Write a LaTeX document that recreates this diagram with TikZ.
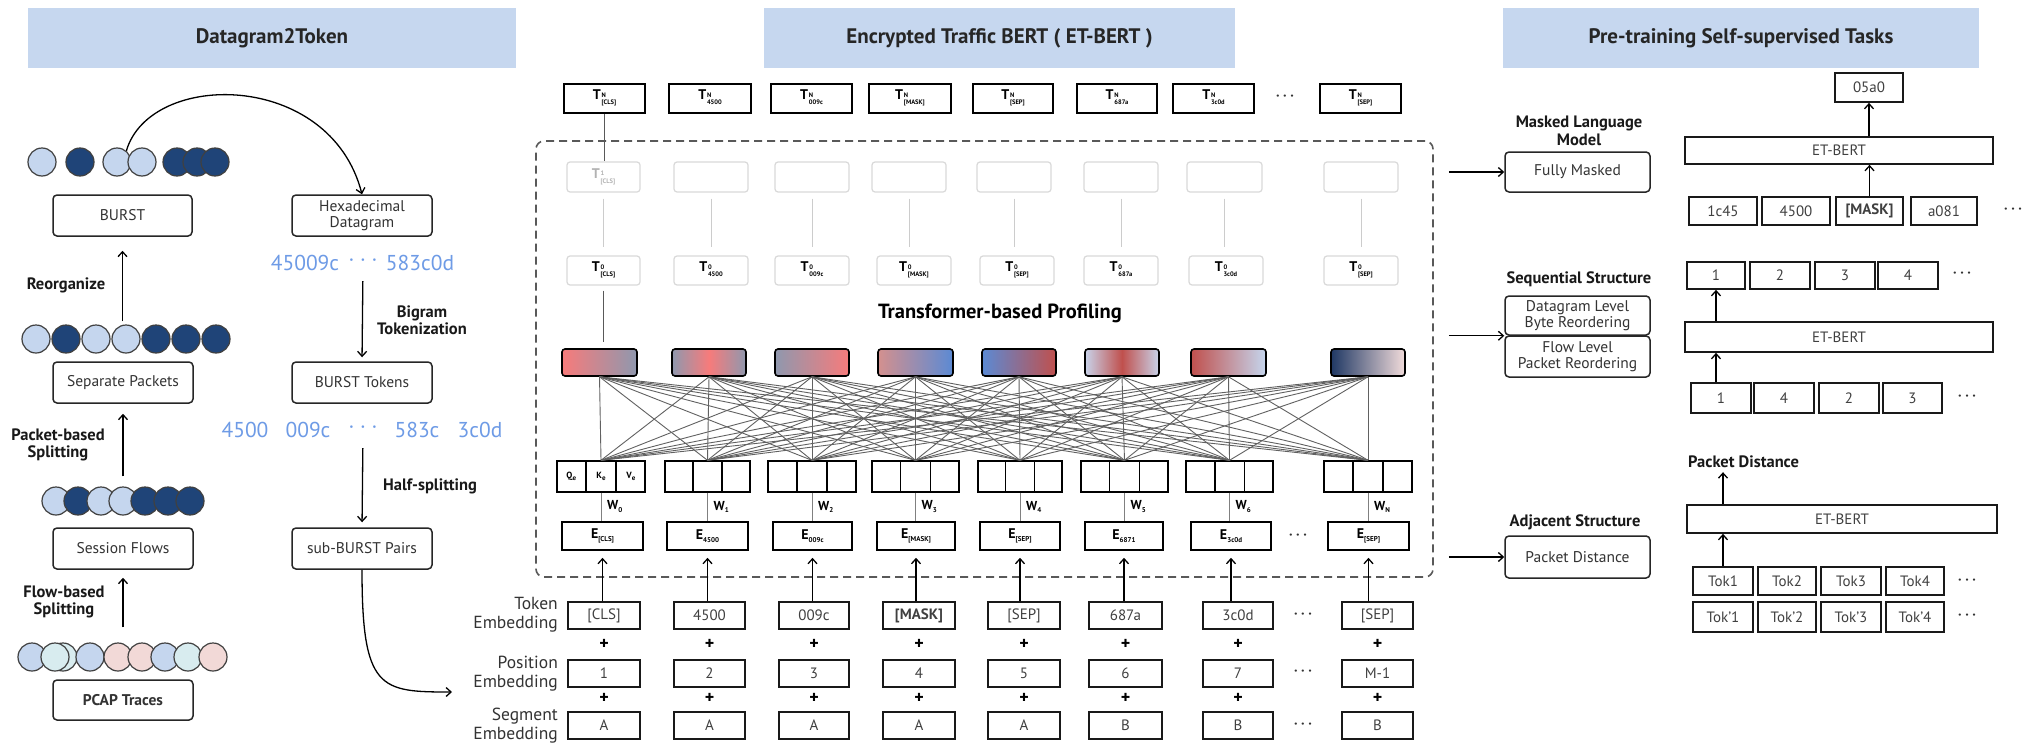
\documentclass[tikz,border=0pt]{standalone}
\usepackage{fontspec}
\setmainfont{PT Sans}
\usetikzlibrary{arrows.meta,calc}
\definecolor{hdrblue}{HTML}{C6D7EF}
\definecolor{tokblue}{HTML}{6E9BE6}
\definecolor{cl}{HTML}{C5D6EE}
\definecolor{cd}{HTML}{1F4478}
\definecolor{cc}{HTML}{D8ECEF}
\definecolor{cp}{HTML}{F2D9D7}
\definecolor{gred}{HTML}{F77B7B}
\definecolor{ggray}{HTML}{8F98AE}
\definecolor{gpink}{HTML}{D4908E}
\definecolor{gblue}{HTML}{5B8AD4}
\definecolor{gdred}{HTML}{C0504D}
\definecolor{glblue}{HTML}{C8D3EA}
\definecolor{gnavy}{HTML}{1F3864}
\definecolor{glpink}{HTML}{F2DCDB}
\newcommand{\bx}[7][]{\node[#1, minimum width={(#5)-(#3)}, minimum height={(#6)-(#4)}] (#2) at ({((#3)+(#5))/2},{((#4)+(#6))/2}) {#7};}
\newcommand{\TT}[3]{\textbf{#1}\hspace{0.8pt}\raisebox{-0.2ex}{\fontsize{6.5}{7.5}\selectfont\bfseries\begin{tabular}[c]{@{}l@{}}#2\\\relax #3\end{tabular}}}
\newcommand{\EE}[2]{\textbf{#1}\raisebox{-0.45ex}{\fontsize{7}{7}\selectfont\bfseries #2}}
\begin{document}
\begin{tikzpicture}[x=1pt,y=-1pt,
  hdr/.style={fill=hdrblue, inner sep=0pt, font=\fontsize{21}{22}\selectfont\bfseries, text=black!85},
  box/.style={draw=black!85, line width=1.5pt, rounded corners=4pt, inner sep=0pt, font=\fontsize{15.5}{16.5}\selectfont, text=black!80, align=center},
  sqbox/.style={draw=black!90, line width=1.7pt, inner sep=0pt, font=\fontsize{15}{16}\selectfont, text=black!75, align=center},
  tnbox/.style={draw=black, line width=2pt, inner sep=0pt, font=\fontsize{14}{15}\selectfont, text=black},
  fadebox/.style={draw=black!15, line width=1.2pt, rounded corners=3pt, inner sep=0pt, font=\fontsize{14}{15}\selectfont},
  gbox/.style={draw=black, line width=1.6pt, rounded corners=3pt, inner sep=0pt},
  qbox/.style={draw=black, line width=1.4pt, inner sep=0pt},
  ebox/.style={draw=black, line width=1.6pt, inner sep=0pt, font=\fontsize{14}{15}\selectfont},
  blab/.style={font=\fontsize{16.5}{17.5}\selectfont\bfseries, align=center, text=black!90, inner sep=0pt},
  bluetxt/.style={font=\fontsize{21.5}{23}\selectfont, text=tokblue, inner sep=0pt},
  circ/.style={circle, draw=black!75, line width=1.2pt, minimum size=28pt, inner sep=0pt},
  attn/.style={draw=black!62, line width=0.9pt},
  wline/.style={draw=black!50, line width=1pt},
  dkline/.style={draw=black!65, line width=1.6pt},
  arr/.style={-{Straight Barb[length=5pt,width=9pt]}, line width=1.3pt},
  dots/.style={font=\fontsize{14}{14}\selectfont\bfseries, text=black!80, inner sep=0pt},
  plus/.style={font=\fontsize{18}{18}\selectfont\bfseries, inner sep=0pt},
  wlab/.style={font=\fontsize{13}{13}\selectfont, inner sep=0pt, anchor=west},
  emlab/.style={font=\fontsize{17.5}{19}\selectfont, align=right, anchor=east, inner sep=0pt, text=black!80}
]
\fill[white] (0,0) rectangle (2033,744);
\useasboundingbox (0,0) rectangle (2033,744);

% headers
\bx[hdr]{h1}{28}{8}{516}{68}{Datagram2Token}
\bx[hdr]{h2}{764}{8}{1235}{68}{Encrypted Traffic BERT ( ET-BERT )}
\bx[hdr]{h3}{1503}{8}{1979}{68}{Pre-training Self-supervised Tasks}

% ---------------- left panel ----------------
\foreach \i/\x/\c in {1/42/cl,2/80/cd,3/117/cl,4/142/cl,5/177/cd,6/197/cd,7/215/cd}
  \node[circ, fill=\c] (ra\i) at (\x,162) {};
\foreach \i/\x/\c in {1/36/cl,2/66/cd,3/96/cl,4/126/cl,5/156/cd,6/186/cd,7/216/cd}
  \node[circ, fill=\c] (rb\i) at (\x,339) {};
\foreach \i/\x/\c in {1/56/cl,2/78/cd,3/101/cl,4/123/cl,5/145/cd,6/168/cd,7/190/cd}
  \node[circ, fill=\c] (rc\i) at (\x,501) {};
\foreach \i/\x/\c in {1/32/cl,3/63/cc,2/55/cc,4/90/cl,5/118/cp,6/142/cp,7/165/cl,8/188/cc,9/213/cp}
  \node[circ, fill=\c] (rd\i) at (\x,657) {};

\bx[box]{burst}{53}{195}{192}{236}{BURST}
\bx[box]{sep}{53}{362}{193}{403}{Separate Packets}
\bx[box]{sess}{53}{528}{193}{569}{Session Flows}
\bx[box]{pcap}{53}{680}{193}{720}{\textbf{PCAP Traces}}
\bx[box]{hexd}{292}{195}{432}{236}{Hexadecimal\\Datagram}
\bx[box]{btok}{292}{362}{432}{403}{BURST Tokens}
\bx[box]{subb}{292}{528}{432}{569}{sub-BURST Pairs}

\draw[arr, shorten <=3pt, shorten >=14pt] (rb4.north -| burst.south) -- (burst.south);
\draw[arr, shorten <=10pt, shorten >=10pt] (rc4.north -| sep.south) -- (sep.south);
\draw[arr, shorten <=15pt, shorten >=8pt] (rd5.north -| sess.south) -- (sess.south);

\node[blab] (lreorg) at (66,285) {Reorganize};
\node[blab] (lpkt) at (58,445) {Packet-based\\Splitting};
\node[blab] (lflow) at (64,602) {Flow-based\\Splitting};

\node[bluetxt] (hexa) at (305,263) {45009c};
\node[bluetxt] (hexdots) at (363,263) {· · ·};
\node[bluetxt] (hexb) at (420,263) {583c0d};
\node[bluetxt] (b1) at (245,430) {4500};
\node[bluetxt] (b2) at (308,430) {009c};
\node[bluetxt] (b3) at (363,430) {· · ·};
\node[bluetxt] (b4) at (417,430) {583c};
\node[bluetxt] (b5) at (480,430) {3c0d};

\draw[arr, shorten <=14pt, shorten >=4pt] (hexdots.south) -- (btok.north);
\draw[arr, shorten <=14pt, shorten >=5pt] (b3.south) -- (subb.north);
\node[blab] (lbig) at (422,320) {Bigram\\Tokenization};
\node[blab] (lhalf) at (430,486) {Half-splitting};

\draw[arr] (ra3.50) .. controls (150,70) and (330,70) .. (hexd.north);
\coordinate (cend) at (452,692);
\draw[arr] (subb.south) .. controls (362,690) and (380,692) .. (cend);

% ---------------- middle panel ----------------
\bx[draw=black!65, line width=1.6pt, dash pattern=on 8pt off 5pt, rounded corners=8pt]{etb}{536}{141}{1433}{577}{}

\foreach \i/\a/\b/\s in {1/564/645/{[CLS]},2/669/751/4500,3/771/852/009c,4/869/951/{[MASK]},5/973/1053/{[SEP]},6/1077/1157/687a,7/1173/1254/3c0d,8/1320/1401/{[SEP]}}
  {\bx[tnbox]{tn\i}{\a}{84}{\b}{113}{\TT{T}{N}{\s}}}
\node[dots] (dtn) at (1285,98) {· · ·};

\foreach \i/\a/\b in {1/567/640,2/674/748,3/775/849,4/872/946,5/977/1051,6/1084/1158,7/1187/1262,8/1324/1398}
  {\bx[fadebox]{ta\i}{\a}{162}{\b}{192}{}}
\node[text=black!30, font=\fontsize{14}{15}\selectfont] (ta1t) at (ta1) {\TT{T}{1}{[CLS]}};

\foreach \i/\a/\b/\s in {1/567/640/{[CLS]},2/674/748/4500,3/775/849/009c,4/877/951/{[MASK]},5/980/1054/{[SEP]},6/1084/1158/687a,7/1189/1263/3c0d,8/1324/1398/{[SEP]}}
  {\bx[fadebox]{tz\i}{\a}{256}{\b}{285}{\TT{T}{0}{\s}}}

\foreach \i in {1,...,8}
  \draw[draw=black!20, line width=1pt, shorten <=6pt, shorten >=8pt] (ta\i.south) -- (ta\i.south |- tz\i.north);

\node[font=\fontsize{20.5}{21}\selectfont\bfseries, inner sep=0pt] (tbp) at (1000,313) {Transformer-based Profiling};

\bx[gbox, left color=gred, right color=ggray]{g1}{562}{349}{637}{376}{}
\bx[gbox, left color=ggray, right color=ggray, middle color=gred]{g2}{672}{349}{746}{376}{}
\bx[gbox, left color=ggray, right color=gred]{g3}{775}{349}{849}{376}{}
\bx[gbox, left color=gpink, right color=gblue]{g4}{878}{349}{953}{376}{}
\bx[gbox, left color=gblue, right color=gdred]{g5}{982}{349}{1056}{376}{}
\bx[gbox, left color=glblue, right color=glblue, middle color=gdred]{g6}{1085}{349}{1159}{376}{}
\bx[gbox, left color=gdred, right color=cl]{g7}{1191}{349}{1266}{376}{}
\bx[gbox, left color=gnavy, right color=glpink]{g8}{1331}{349}{1405}{376}{}

\draw[dkline] (tn1.south) -- (tn1.south |- ta1.north);
\draw[dkline, shorten <=5pt, shorten >=6pt] (tz1.south) -- (tz1.south |- g1.north);

\foreach \i/\a/\b in {1/557/645,2/665/750,3/768/856,4/872/959,5/978/1062,6/1081/1168,7/1186/1273,8/1324/1412}
  {\bx[qbox]{q\i}{\a}{461}{\b}{492}{}
   \draw[line width=1.4pt] ($(q\i.north west)!1/3!(q\i.north east)$) -- ($(q\i.south west)!1/3!(q\i.south east)$);
   \draw[line width=1.4pt] ($(q\i.north west)!2/3!(q\i.north east)$) -- ($(q\i.south west)!2/3!(q\i.south east)$);}
\draw[line width=2.4pt] ($(q1.north west)!1/3!(q1.north east)$) -- ($(q1.south west)!1/3!(q1.south east)$);
\draw[line width=2.4pt] ($(q7.north west)!1/3!(q7.north east)$) -- ($(q7.south west)!1/3!(q7.south east)$);
\node[font=\fontsize{9}{9}\selectfont] (qe) at ($(q1.west)!1/6!(q1.east)$) {\EE{Q}{e}};
\node[font=\fontsize{9}{9}\selectfont] (ke) at ($(q1.west)!1/2!(q1.east)$) {\EE{K}{e}};
\node[font=\fontsize{9}{9}\selectfont] (ve) at ($(q1.west)!5/6!(q1.east)$) {\EE{V}{e}};

\foreach \i in {1,...,8}
  \foreach \j in {1,...,8}
    \draw[attn] (g\i.south) -- (q\j.north);

\foreach \i/\a/\b/\s/\w in {1/562/643/{[CLS]}/0,2/667/748/4500/1,3/773/852/009c/2,4/877/955/{[MASK]}/3,5/980/1060/{[SEP]}/4,6/1085/1163/6871/5,7/1191/1271/3c0d/6,8/1328/1409/{[SEP]}/N}
  {\bx[ebox]{e\i}{\a}{522}{\b}{550}{\EE{E}{\s}}
   \draw[wline] (q\i.south) -- (q\i.south |- e\i.north);
   \node[wlab] (w\i) at ($(q\i.south)!0.5!(q\i.south |- e\i.north)+(6,0)$) {\EE{W}{\w}};}
\node[dots] (dte) at (1298,537) {· · ·};

\foreach \i/\a/\b/\s/\p/\g in {1/568/640/{[CLS]}/1/A,2/674/745/4500/2/A,3/779/849/009c/3/A,4/883/955/{\textbf{[MASK]}}/4/A,5/988/1060/{[SEP]}/5/A,6/1089/1162/687a/6/B,7/1203/1273/3c0d/7/B,8/1342/1413/{[SEP]}/M-1/B}
  {\bx[sqbox]{tk\i}{\a}{602}{\b}{629}{\s}
   \bx[sqbox]{ps\i}{\a}{660}{\b}{687}{\p}
   \bx[sqbox]{sg\i}{\a}{712}{\b}{739}{\g}
   \node[plus] (pa\i) at ($(tk\i.south)!0.5!(ps\i.north)$) {+};
   \node[plus] (pb\i) at ($(ps\i.south)!0.45!(sg\i.north)$) {+};
   \draw[arr, shorten >=7pt] (tk\i.north -| e\i.south) -- (e\i.south);}
\node[dots] (dtk) at (1303,616) {· · ·};
\node[dots] (dps) at (1303,673) {· · ·};
\node[dots] (dsg) at (1303,726) {· · ·};

\node[emlab] (ltok) at (558,615) {Token\\Embedding};
\node[emlab] (lpos) at (558,674) {Position\\Embedding};
\node[emlab] (lseg) at (558,726) {Segment\\Embedding};

% ---------------- right panel ----------------
\bx[box]{fm}{1505}{152}{1650}{192}{Fully Masked}
\bx[box]{dbr}{1505}{296}{1650}{335}{Datagram Level\\Byte Reordering}
\bx[box]{flr}{1505}{336}{1650}{377}{Flow Level\\Packet Reordering}
\bx[box]{pd}{1505}{536}{1650}{578}{Packet Distance}
\node[blab] (lmlm) at (1579,131) {Masked Language\\Model};
\node[blab] (lseq) at (1579,279) {Sequential Structure};
\node[blab] (ladj) at (1575,522) {Adjacent Structure};

\draw[arr, shorten <=15pt] (etb.east |- fm.west) -- (fm.west);
\draw[arr, shorten <=15pt] (etb.east |- dbr.south west) -- (dbr.south west);
\draw[arr, shorten <=15pt] (etb.east |- pd.west) -- (pd.west);

\bx[sqbox]{o05}{1835}{73}{1903}{102}{05a0}
\bx[sqbox]{eb1}{1685}{137}{1993}{164}{ET-BERT}
\foreach \i/\a/\b/\s in {1/1689/1757/1c45,2/1762/1830/4500,3/1836/1903/{\textbf{[MASK]}},4/1911/1977/a081}
  {\bx[sqbox]{m\i}{\a}{197}{\b}{225}{\s}}
\node[dots] (dm) at (2013,211) {· · ·};
\draw[arr] (m3.north) -- (m3.north |- eb1.south);
\draw[arr] (eb1.north -| o05.south) -- (o05.south);

\foreach \i/\a/\b/\s in {1/1687/1745/1,2/1750/1810/2,3/1815/1875/3,4/1878/1938/4}
  {\bx[sqbox]{sa\i}{\a}{262}{\b}{289}{\s}}
\node[dots] (dsa) at (1962,275) {· · ·};
\bx[sqbox]{eb2}{1685}{322}{1993}{352}{ET-BERT}
\foreach \i/\a/\b/\s in {1/1691/1751/1,2/1754/1814/4,3/1819/1879/2,4/1883/1942/3}
  {\bx[sqbox]{sb\i}{\a}{383}{\b}{413}{\s}}
\node[dots] (dsb) at (1967,398) {· · ·};
\draw[arr] (sb1.north -| sa1.south) -- (sa1.south |- eb2.south);
\draw[arr] (eb2.north -| sa1.south) -- (sa1.south);

\node[blab, anchor=west] (lpd) at (1688,462) {Packet Distance};
\bx[sqbox]{eb3}{1687}{505}{1997}{533}{ET-BERT}
\foreach \i/\a/\b in {1/1693/1753,2/1758/1816,3/1821/1881,4/1886/1944}
  {\bx[sqbox]{ka\i}{\a}{567}{\b}{595}{Tok\i}
   \bx[sqbox]{kb\i}{\a}{602}{\b}{632}{Tok’\i}}
\node[dots] (dka) at (1967,582) {· · ·};
\node[dots] (dkb) at (1967,617) {· · ·};
\draw[arr] (ka1.north) -- (ka1.north |- eb3.south);
\draw[arr, shorten >=4pt] (eb3.north -| ka1.north) -- (ka1.north |- lpd.south);
\end{tikzpicture}
\end{document}
